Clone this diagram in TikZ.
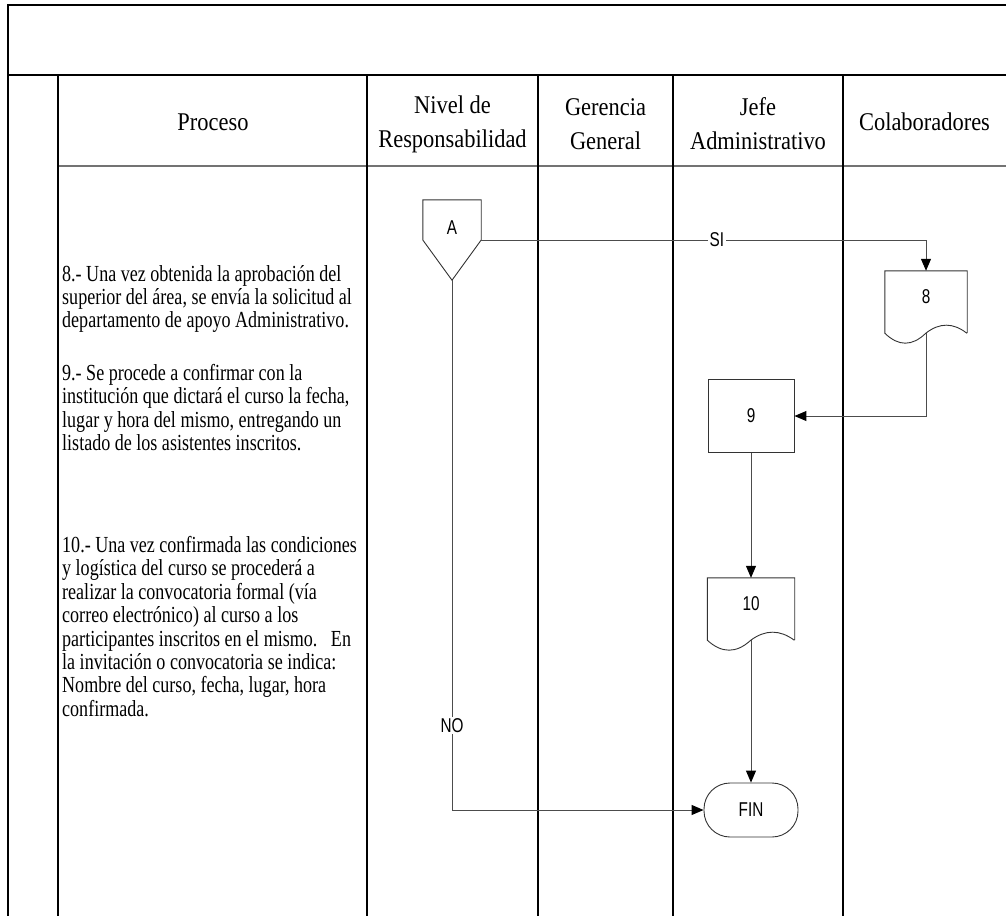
\documentclass[tikz,border=0pt]{standalone}
\usepackage{fontspec}
\setmainfont{Liberation Serif}
\newfontfamily\headfont{Liberation Serif}[FakeStretch=0.88]
\newfontfamily\stepfont{Liberation Serif}[FakeStretch=0.785]
\newfontfamily\flowfont{Liberation Sans}[FakeStretch=0.765]
\usetikzlibrary{arrows.meta,calc}

% document symbol: straight top and sides, wavy bottom edge
\newcommand\docoutline[2]{%
  \draw[outline] (#1.south east) -- (#1.north east) -- (#1.north west) -- (#1.south west)
    .. controls +(#2/3,13.3) and +(-#2/3,13.3) .. ++(#2,0)
    .. controls +(#2/3,-10.7) and +(-#2/3,-10.7) .. ++(#2,0);}

\begin{document}
\begin{tikzpicture}[x=1pt,y=-1pt,
  grid/.style={black,line width=1.1pt},
  head/.style={font=\headfont\fontsize{25.5}{34}\selectfont,align=center,inner sep=0pt},
  steptext/.style={font=\stepfont\fontsize{23}{23.4}\selectfont,align=left,anchor=north west,inner sep=0pt},
  outline/.style={draw=black!80,line width=0.9pt},
  shapebox/.style={outline,inner sep=0pt,font=\flowfont\fontsize{20}{22}\selectfont},
  hollow/.style={inner sep=0pt,font=\flowfont\fontsize{20}{22}\selectfont},
  flow/.style={draw=black!70,line width=1pt,-{Triangle[length=12pt,width=10pt,color=black]}},
  tag/.style={fill=white,inner sep=1.5pt,font=\flowfont\fontsize{20}{22}\selectfont}
]
\useasboundingbox (0,0) rectangle (1006,916);

% table frame and column rules
\draw[grid] (1006,5) -- (8,5) -- (8,916);
\draw[black,line width=1.7pt] (8,75) -- (1006,75);
\draw[black!55,line width=2pt] (58,166) -- (1006,166);
\foreach \x in {58,367,538,673,843} \draw[grid] (\x,75) -- (\x,916);

% column headings
\node[head] (hproc) at (213,122) {Proceso};
\node[head] (hniv)  at (452.5,124) {Nivel de\\Responsabilidad};
\node[head] (hger)  at (605.5,124) {Gerencia\\General};
\node[head] (hjefe) at (758,124) {Jefe\\Administrativo};
\node[head] (hcol)  at (924.5,122) {Colaboradores};

% process descriptions
\node[steptext] (t8) at (62,265) {8.- Una vez obtenida la aprobación del\\superior del área, se envía la solicitud al\\departamento de apoyo Administrativo.};
\node[steptext] (t9) at (62,364) {9.- Se procede a confirmar con la\\institución que dictará el curso la fecha,\\lugar y hora del mismo, entregando un\\listado de los asistentes inscritos.};
\node[steptext] (t10) at (62,536) {10.- Una vez confirmada las condiciones\\y logística del curso se procederá a\\realizar la convocatoria formal (vía\\correo electrónico) al curso a los\\participantes inscritos en el mismo.\ \ \ En\\la invitación o convocatoria se indica:\\Nombre del curso, fecha, lugar, hora\\confirmada.};

% off-page connector A
\node[hollow,minimum width=58pt,minimum height=80pt] (A) at (452,240) {\raisebox{24pt}{A}};
\draw[outline] (A.north west) -- (A.north east) -- (A.east) -- (A.south) -- (A.west) -- cycle;

% document 8
\node[hollow,minimum width=82pt,minimum height=62pt] (d8) at (926,302) {\raisebox{10pt}{8}};
\docoutline{d8}{41}

% process 9
\node[shapebox,minimum width=86pt,minimum height=73pt] (b9) at (751,416) {9};

% document 10
\node[hollow,minimum width=87pt,minimum height=62pt] (d10) at (751,609) {\raisebox{10pt}{10}};
\docoutline{d10}{43.5}

% terminator
\node[shapebox,rounded corners=26pt,minimum width=94pt,minimum height=54pt] (fin) at (751,810) {FIN};

% flow
\draw[flow] (A.east) -| node[tag,pos=0.265] {SI} (d8.north);
\draw[flow] (d8.south) |- (b9.east);
\draw[flow] (b9.south) -- (d10.north);
\draw[flow] (d10.south) -- (fin.north);
\draw[flow] (A.south) |- node[tag,pos=0.42] {NO} (fin.west);
\end{tikzpicture}
\end{document}
